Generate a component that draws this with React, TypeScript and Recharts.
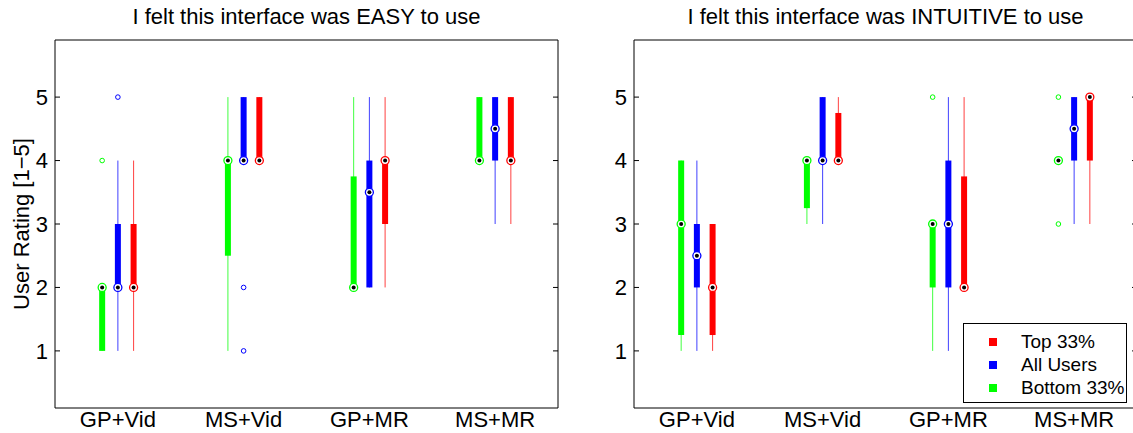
import React from "react";
import { ScatterChart, Scatter, XAxis, YAxis, ErrorBar } from "recharts";

const GROUPS = ["GP+Vid", "MS+Vid", "GP+MR", "MS+MR"];
const X_TICKS = [1, 2, 3, 4];
const Y_TICKS = [1, 2, 3, 4, 5];

// each row: [low whisker, q1, median, q3, high whisker], one row per group
const easyBottom = [[1, 1, 2, 2, 2], [1, 2.5, 4, 4, 5], [2, 2, 2, 3.75, 5], [4, 4, 4, 5, 5]];
const easyAll = [[1, 2, 2, 3, 4], [4, 4, 4, 5, 5], [2, 2, 3.5, 4, 5], [3, 4, 4.5, 5, 5]];
const easyTop = [[1, 2, 2, 3, 4], [4, 4, 4, 5, 5], [2, 3, 4, 4, 5], [3, 4, 4, 5, 5]];
const easyBottomOut = [[4], [], [], []];
const easyAllOut = [[5], [2, 1], [], []];
const easyTopOut = [[], [], [], []];

const intuitiveBottom = [[1, 1.25, 3, 4, 4], [3, 3.25, 4, 4, 4], [1, 2, 3, 3, 3], [4, 4, 4, 4, 4]];
const intuitiveAll = [[1, 2, 2.5, 3, 4], [3, 4, 4, 5, 5], [1, 2, 3, 4, 5], [3, 4, 4.5, 5, 5]];
const intuitiveTop = [[1, 1.25, 2, 3, 3], [4, 4, 4, 4.75, 5], [2, 2, 2, 3.75, 5], [3, 4, 5, 5, 5]];
const intuitiveBottomOut = [[], [], [5], [5, 3]];
const intuitiveAllOut = [[], [], [], []];
const intuitiveTopOut = [[], [], [], []];

const SERIES = [
  { key: "bottom", name: "Bottom 33%", color: "#00ff00", shift: -1 },
  { key: "all", name: "All Users", color: "#0000ff", shift: 0 },
  { key: "top", name: "Top 33%", color: "#ff0000", shift: 1 },
];

const FONT = '"Liberation Sans", Arial, Helvetica, sans-serif';
const CHART_W = 580;
const CHART_H = 433;
const SLOT = 0.125; // spacing between the three boxes of a group, in x units
const Y_DOMAIN = [0.1, 5.9];

function boxRows(stats: number[][], shift: number) {
  return stats.map(([lo, q1, med, q3, hi], i) => ({
    x: i + 1 + shift * SLOT,
    y: med,
    box: [med - q1, q3 - med],
    whisker: [med - lo, hi - med],
  }));
}

function outlierRows(out: number[][], shift: number) {
  return out.flatMap((vals, i) => vals.map((v) => ({ x: i + 1 + shift * SLOT, y: v })));
}

function MedianMark({ cx, cy, color }: any) {
  if (cx == null || cy == null) return null;
  return (
    <g>
      <circle cx={cx} cy={cy} r={4} fill="#fff" stroke={color} strokeWidth={1.3} />
      <circle cx={cx} cy={cy} r={2} fill="#000" />
    </g>
  );
}

function OutlierMark({ cx, cy, color }: any) {
  if (cx == null || cy == null) return null;
  return <circle cx={cx} cy={cy} r={2.3} fill="none" stroke={color} strokeWidth={1} />;
}

// tick lines only, no labels (right-hand frame of the axes box)
const NoLabel = () => <g />;

interface PanelProps {
  left: number;
  title: string;
  stats: Record<string, number[][]>;
  outliers: Record<string, number[][]>;
  yLabel?: string;
  legend?: boolean;
}

function Panel({ left, title, stats, outliers, yLabel, legend }: PanelProps) {
  const axisStroke = { stroke: "#000", strokeWidth: 1 };
  return (
    <div style={{ position: "absolute", left, top: 0, width: CHART_W, height: CHART_H }}>
      <div
        style={{
          position: "absolute", left: 55, top: 6, width: 503,
          textAlign: "center", fontSize: 22, lineHeight: "22px", whiteSpace: "nowrap",
        }}
      >
        {title}
      </div>
      {yLabel && (
        <div
          style={{
            position: "absolute", left: 22, top: 224, fontSize: 22, lineHeight: "22px",
            whiteSpace: "nowrap", transform: "translate(-50%, -50%) rotate(-90deg)",
          }}
        >
          {yLabel}
        </div>
      )}
      <ScatterChart width={CHART_W} height={CHART_H} margin={{ top: 39, right: 21, bottom: 0, left: 15 }}>
        <XAxis
          type="number" dataKey="x" domain={[0.5, 4.5]} ticks={X_TICKS} interval={0}
          tickFormatter={(v: number) => GROUPS[v - 1]} allowDataOverflow
          height={25} tickLine={false} tickSize={0} tickMargin={3}
          axisLine={axisStroke} tick={{ fontSize: 22, fill: "#000", fontFamily: FONT }}
        />
        <XAxis
          xAxisId="t" orientation="top" type="number" domain={[0.5, 4.5]} ticks={X_TICKS}
          height={1} tick={false} tickLine={false} axisLine={axisStroke} allowDataOverflow
        />
        <YAxis
          type="number" dataKey="y" domain={Y_DOMAIN} ticks={Y_TICKS} interval={0} allowDataOverflow
          width={40} tickSize={-5} tickMargin={12} tickLine={axisStroke} axisLine={axisStroke}
          tick={{ fontSize: 22, fill: "#000", fontFamily: FONT }}
        />
        <YAxis
          yAxisId="r" orientation="right" type="number" domain={Y_DOMAIN} ticks={Y_TICKS}
          interval={0} allowDataOverflow width={1} tickSize={-5} tick={NoLabel}
          tickLine={axisStroke} axisLine={axisStroke}
        />
        {SERIES.map((s) => (
          <Scatter
            key={s.key}
            name={s.name}
            data={boxRows(stats[s.key], s.shift)}
            fill={s.color}
            isAnimationActive={false}
            shape={(p: any) => <MedianMark {...p} color={s.color} />}
          >
            <ErrorBar dataKey="whisker" direction="y" width={0} stroke={s.color} strokeWidth={1} strokeOpacity={0.75} isAnimationActive={false} />
            <ErrorBar dataKey="box" direction="y" width={0} stroke={s.color} strokeWidth={6} isAnimationActive={false} />
          </Scatter>
        ))}
        {SERIES.map((s) => (
          <Scatter
            key={s.key + "-out"}
            data={outlierRows(outliers[s.key], s.shift)}
            fill="none"
            isAnimationActive={false}
            shape={(p: any) => <OutlierMark {...p} color={s.color} />}
          />
        ))}
      </ScatterChart>
      {legend && (
        <div
          style={{
            position: "absolute", left: 384, top: 323, width: 164, height: 80,
            boxSizing: "border-box", border: "1px solid #000", background: "#fff",
            paddingTop: 6,
          }}
        >
          {[...SERIES].reverse().map((s) => (
            <div key={s.key} style={{ display: "flex", alignItems: "center", height: 23, fontSize: 19 }}>
              <span style={{ width: 8, height: 8, background: s.color, marginLeft: 25, marginRight: 24 }} />
              <span>{s.name}</span>
            </div>
          ))}
        </div>
      )}
    </div>
  );
}

export default function App() {
  return (
    <div
      style={{
        position: "absolute", left: 0, top: 0, width: 1133, height: 433, overflow: "hidden",
        background: "#fff", fontFamily: FONT, color: "#000",
      }}
    >
      <Panel
        left={0}
        title="I felt this interface was EASY to use"
        stats={{ bottom: easyBottom, all: easyAll, top: easyTop }}
        outliers={{ bottom: easyBottomOut, all: easyAllOut, top: easyTopOut }}
        yLabel="User Rating [1−5]"
      />
      <Panel
        left={579}
        title="I felt this interface was INTUITIVE to use"
        stats={{ bottom: intuitiveBottom, all: intuitiveAll, top: intuitiveTop }}
        outliers={{ bottom: intuitiveBottomOut, all: intuitiveAllOut, top: intuitiveTopOut }}
        legend
      />
    </div>
  );
}
